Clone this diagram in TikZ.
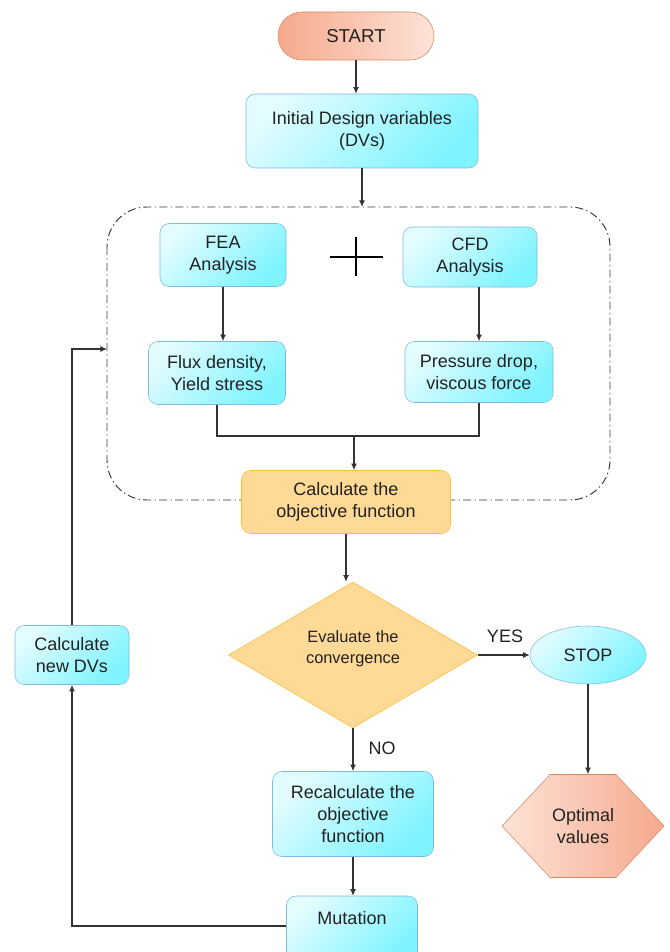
\documentclass[tikz,border=0pt]{standalone}
\usepackage{fontspec}
\setmainfont{Liberation Sans}
\usetikzlibrary{arrows.meta,positioning,shapes.geometric,shapes.symbols}
\definecolor{cyanlight}{HTML}{E2FCFF}
\definecolor{cyandark}{HTML}{7EF4FF}
\definecolor{cyanedge}{HTML}{7DB8E6}
\definecolor{salmonlight}{HTML}{FDE3D8}
\definecolor{salmondark}{HTML}{F6A98C}
\definecolor{salmonedge}{HTML}{D9865F}
\definecolor{goldfill}{HTML}{FFD996}
\definecolor{goldedge}{HTML}{F4BE35}
\definecolor{linegray}{HTML}{333333}
\definecolor{textgray}{HTML}{222222}
\tikzset{
  flow/.style={-{Latex[length=5pt,width=4.5pt]}, linegray, line width=0.8pt},
  link/.style={linegray, line width=0.8pt},
  bluebox/.style={draw=cyanedge, rounded corners=7pt, top color=cyanlight,
    bottom color=cyandark, shading angle=45, align=center, inner sep=2pt,
    text=textgray, font=\fontsize{13.5}{16.5}\selectfont},
  goldbox/.style={draw=goldedge, fill=goldfill, rounded corners=7pt,
    align=center, inner sep=2pt, text=textgray,
    font=\fontsize{13.5}{16.5}\selectfont},
  pill/.style={draw=salmonedge, rounded corners=18pt, left color=salmondark,
    right color=salmonlight, text=textgray, font=\fontsize{14}{16}\selectfont},
  label text/.style={text=textgray, font=\fontsize{13.5}{16}\selectfont},
}

\begin{document}
\begin{tikzpicture}[x=0.75pt, y=-0.75pt]
  % Frame
  \useasboundingbox (0,0) rectangle (670,952);
  \clip (0,0) rectangle (670,952);

  % Start and inputs
  \node[pill, minimum width=117pt, minimum height=36pt] (start) at (356,36) {START};
  \node[bluebox, minimum width=174pt, minimum height=55.5pt] (dvs) at (362,131)
    {Initial Design variables\\(DVs)};

  % Analysis block
  \draw[linegray, line width=0.7pt, dash pattern=on 6pt off 2.5pt on 1pt off 2.5pt,
    rounded corners=30pt] (107,207) rectangle (610,500);
  \coordinate (blockN) at (362,207);
  \coordinate (blockW) at (107,349);
  \node[bluebox, minimum width=94.5pt, minimum height=47.25pt] (fea) at (223,255)
    {FEA\\Analysis};
  \node[bluebox, minimum width=100.5pt, minimum height=45pt] (cfd) at (470,257)
    {CFD\\Analysis};
  \draw[black, line width=1.2pt] (330,257) -- (383,257) (356,237) -- (356,276);
  \node[bluebox, minimum width=102.75pt, minimum height=47.25pt] (flux) at (217,373)
    {Flux density,\\Yield stress};
  \node[bluebox, minimum width=111pt, minimum height=45.75pt] (press) at (479,372)
    {Pressure drop,\\viscous force};
  \node[goldbox, minimum width=156.75pt, minimum height=47.25pt] (calc) at (346,502)
    {Calculate the\\objective function};
  \coordinate (merge) at (354,436);

  % Decision
  \node[diamond, draw=goldedge, fill=goldfill, inner sep=0pt, align=center,
    minimum width=186.75pt, minimum height=109.5pt, text=textgray,
    font=\fontsize{12.3}{15.75}\selectfont] (eval) at (353,655)
    {Evaluate the\\convergence\\[-4pt]};
  \node[ellipse, draw=cyanedge, top color=cyanlight, bottom color=cyandark,
    shading angle=45, minimum width=87pt, minimum height=43.5pt, text=textgray,
    font=\fontsize{13.5}{16}\selectfont] (stop) at (588,655) {STOP};
  \node[signal, signal to=east and west, signal pointer angle=94, draw=salmonedge,
    left color=salmonlight, right color=salmondark, inner sep=0pt, align=center,
    minimum width=121.5pt, minimum height=77.25pt, text=textgray,
    font=\fontsize{13.5}{17}\selectfont] (opt) at (583,826) {Optimal\\values};

  % Loop back
  \node[bluebox, minimum width=120.75pt, minimum height=63.75pt] (recalc) at (353,814)
    {Recalculate the\\objective\\function};
  \node[bluebox, minimum width=98.25pt, minimum height=48pt, text depth=15pt]
    (mut) at (352,928) {Mutation};
  \node[bluebox, minimum width=85.5pt, minimum height=44.25pt] (newdv) at (72,655)
    {Calculate\\new DVs};

  % Labels
  \node[label text] (yes) at (505,636) {YES};
  \node[label text] (no) at (382,748) {NO};

  % Connectors
  \draw[flow] (start.south) -- (start.south |- dvs.north);
  \draw[flow] (dvs.south) -- (blockN);
  \draw[flow] (fea.south) -- (fea.south |- flux.north);
  \draw[flow] (press.north |- cfd.south) -- (press.north);
  \draw[link] (flux.south) |- (merge) -| (press.south);
  \draw[flow] (merge) -- (merge |- calc.north);
  \draw[flow] (calc.south) -- (calc.south |- eval.north);
  \draw[flow] (eval.east) -- (stop.west);
  \draw[flow] (stop.south) -- (stop.south |- opt.north);
  \draw[flow] (eval.south) -- (eval.south |- recalc.north);
  \draw[flow] (recalc.south) -- (recalc.south |- mut.north);
  \draw[flow] (mut.west |- 0,926) -| (newdv.south);
  \draw[flow] (newdv.north) |- (blockW);
\end{tikzpicture}
\end{document}
